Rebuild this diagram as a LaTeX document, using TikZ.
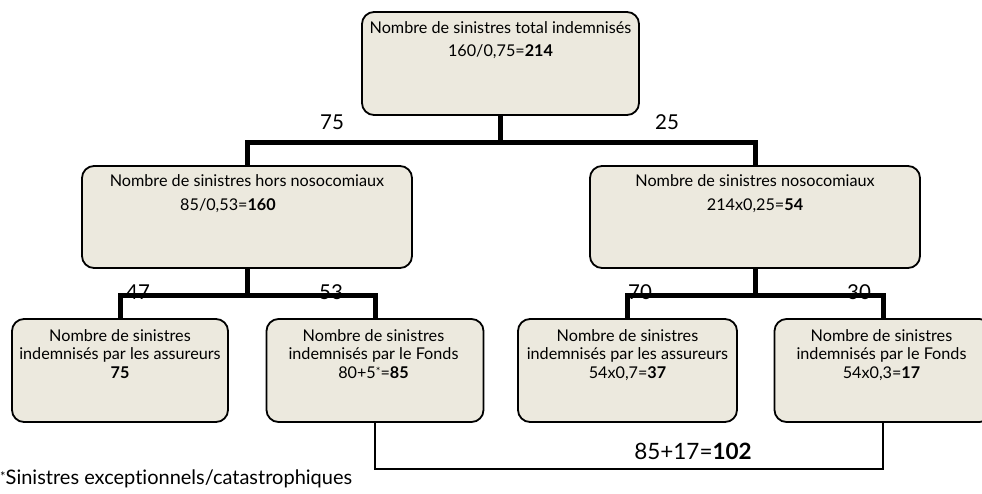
\documentclass[tikz,border=0pt]{standalone}
\usepackage{fontspec}
\setmainfont{Lato}[Ligatures=NoCommon]
\definecolor{boxfill}{RGB}{236,233,222}
\begin{document}
\begin{tikzpicture}[x=1pt,y=-1pt,
  box/.style={draw=black, line width=1.8pt, fill=boxfill, rounded corners=12pt, inner sep=0pt},
  thickline/.style={line width=5pt, line join=miter},
  thinline/.style={line width=1.2pt},
  txt/.style={font=\fontsize{16.2}{19}\selectfont, inner sep=0pt, anchor=base},
  lbl/.style={font=\fontsize{20.5}{24}\selectfont, inner sep=0pt, anchor=base},
  sum/.style={font=\fontsize{22.5}{27}\selectfont, inner sep=0pt, anchor=base},
  note/.style={font=\fontsize{20}{24}\selectfont, inner sep=0pt, anchor=base west}]
\useasboundingbox (0,0) rectangle (982,493);

% boxes
\node[box, minimum width=277pt, minimum height=103pt] (top) at (500.5,63.5) {};
\node[box, minimum width=330pt, minimum height=102pt] (lm) at (247,217) {};
\node[box, minimum width=330pt, minimum height=102pt] (rm) at (755,217) {};
\node[box, minimum width=216pt, minimum height=103pt] (b1) at (120,370.5) {};
\node[box, minimum width=217pt, minimum height=103pt] (b2) at (375,370.5) {};
\node[box, minimum width=219pt, minimum height=103pt] (b3) at (627.5,370.5) {};
\node[box, minimum width=217pt, minimum height=103pt] (b4) at (883,370.5) {};

% texts
\node[txt] (t1a) at (500.5,33) {Nombre de sinistres total indemnisés};
\node[txt] (t1b) at (500.5,56) {160/0,75=\textbf{214}};
\node[txt] (t2a) at (247,186) {Nombre de sinistres hors nosocomiaux};
\node[txt] (t2b) at (228,210) {85/0,53=\textbf{160}};
\node[txt] (t3a) at (755,186) {Nombre de sinistres nosocomiaux};
\node[txt] (t3b) at (755,210) {214x0,25=\textbf{54}};
\node[txt] (t4a) at (120,341) {Nombre de sinistres};
\node[txt] (t4b) at (120,359) {indemnisés par les assureurs};
\node[txt] (t4c) at (120,378) {\textbf{75}};
\node[txt] (t5a) at (373.5,341) {Nombre de sinistres};
\node[txt] (t5b) at (373.5,359) {indemnisés par le Fonds};
\node[txt] (t5c) at (373.5,378) {80+5\raisebox{0.3ex}{\fontsize{11}{11}\selectfont *}=\textbf{85}};
\node[txt] (t6a) at (627.5,341) {Nombre de sinistres};
\node[txt] (t6b) at (627.5,359) {indemnisés par les assureurs};
\node[txt] (t6c) at (627.5,378) {54x0,7=\textbf{37}};
\node[txt] (t7a) at (881.5,341) {Nombre de sinistres};
\node[txt] (t7b) at (881.5,359) {indemnisés par le Fonds};
\node[txt] (t7c) at (881.5,378) {54x0,3=\textbf{17}};

% branch labels (drawn under bars)
\node[lbl] (l75) at (332,129) {75};
\node[lbl] (l25) at (667,129) {25};
\node[lbl] (l47) at (138,299) {47};
\node[lbl] (l53) at (331,299) {53};
\node[lbl] (l70) at (640,299) {70};
\node[lbl] (l30) at (859,299) {30};

% junctions
\coordinate (j1) at (500.5,142);
\coordinate (j2) at (247,295);
\coordinate (j3) at (755,295);
\coordinate (j4) at (375,469);

% thick connectors
\draw[thickline] (top.south) -- (j1);
\draw[thickline] (lm.north) |- (j1) -| (rm.north);
\draw[thickline] (lm.south) -- (j2);
\draw[thickline] (b1.north) |- (j2) -| (b2.north);
\draw[thickline] (rm.south) -- (j3);
\draw[thickline] (b3.north) |- (j3) -| (b4.north);

% thin sum connector
\draw[thinline] (b2.south) -- (j4) -| (b4.south);
\node[sum] (s) at (693,459) {85+17=\textbf{102}};

% footnote
\node[note] (fn) at (0,484) {\raisebox{0.25ex}{\fontsize{13}{13}\selectfont *}Sinistres exceptionnels/catastrophiques};
\end{tikzpicture}
\end{document}
